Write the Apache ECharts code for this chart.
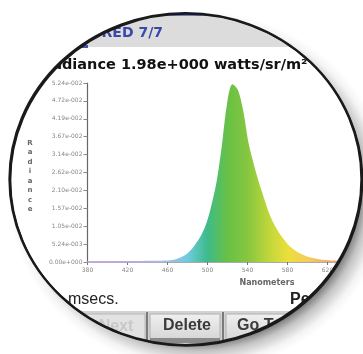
<!DOCTYPE html>
<html>
<head>
<meta charset="utf-8">
<style>
  html, body { margin: 0; padding: 0; background: #fff; }
  #main { width: 363px; height: 354px; }
</style>
<script src="https://cdn.jsdelivr.net/npm/echarts@6/dist/echarts.min.js"></script>
</head>
<body>
<div id="main"></div>
<script>
// spectrum (nm, watts/sr/m²/nm)
const nm = [380, 385, 390, 395, 400, 405, 410, 415, 420, 425, 430, 435, 440, 445, 450, 455, 460, 465,
  470, 475, 480, 485, 490, 495, 500, 505, 510, 515, 520, 525, 530, 535, 540, 545, 550, 555, 560, 565,
  570, 575, 580, 585, 590, 595, 600, 605, 610, 615, 620, 625, 630, 635, 640];
const radiance = [0.00005, 0.00005, 0.00005, 0.00005, 0.00005, 0.00005, 0.00005, 0.00005, 0.00005,
  0.00005, 0.00006, 0.00006, 0.00008, 0.0001, 0.00012, 0.00015, 0.0002, 0.00035, 0.0007, 0.0013,
  0.0022, 0.0036, 0.0056, 0.008, 0.0115, 0.0168, 0.0235, 0.0335, 0.0455, 0.0518, 0.05, 0.044,
  0.035, 0.029, 0.0238, 0.0192, 0.0148, 0.0114, 0.0088, 0.0067, 0.0049, 0.0036, 0.0026, 0.0019,
  0.0013, 0.0009, 0.0006, 0.0004, 0.0003, 0.0002, 0.00015, 0.00012, 0.0001];
const yTickLabels = ['0.00e+000', '5.24e-003', '1.05e-002', '1.57e-002', '2.10e-002', '2.62e-002',
  '3.14e-002', '3.67e-002', '4.19e-002', '4.72e-002', '5.24e-002'];
const yStep = 0.00524;

const chart = echarts.init(document.getElementById('main'));

// lens outline (slightly oval)
const cx = 185.5, cy = 179, ry = 166, sx = 176 / 166;
// drop shadow only toward the bottom-right: gradient centred off the lens centre
const shadow = new echarts.graphic.RadialGradient(12, 12, ry + 40, [
  { offset: 0, color: '#ffffff' },
  { offset: (ry - 18) / (ry + 40), color: '#666666' },
  { offset: (ry - 6) / (ry + 40), color: '#c4c4c4' },
  { offset: (ry + 6) / (ry + 40), color: '#f4f4f4' },
  { offset: (ry + 14) / (ry + 40), color: '#ffffff' },
  { offset: 1, color: '#ffffff' }
], true);

const btnFill = new echarts.graphic.LinearGradient(0, 0, 0, 1, [
  { offset: 0, color: '#f0f0f0' },
  { offset: 1, color: '#d6d6d6' }
]);

chart.setOption({
  animation: false,
  backgroundColor: '#fff',
  grid: { left: 87.5, top: 83, width: 260, height: 179, containLabel: false, outerBoundsMode: 'none' },
  visualMap: {
    show: false,
    type: 'continuous',
    seriesIndex: 0,
    dimension: 0,
    min: 380,
    max: 640,
    inRange: {
      color: ['#c8acdc', '#c2aade', '#bcaade', '#b2b0e2', '#a2bee6', '#6ecbe0', '#3dbb8a',
        '#68c145', '#86c640', '#bcd63a', '#eadf3c', '#f5cd5a', '#f4ad72', '#f09a78']
    }
  },
  xAxis: {
    type: 'value',
    min: 380,
    max: 640,
    interval: 40,
    axisLine: { show: true, lineStyle: { color: '#aaa', width: 1 } },
    axisTick: { show: true, length: 3, lineStyle: { color: '#777' } },
    axisLabel: { fontSize: 6, color: '#888', margin: 5, fontFamily: 'DejaVu Sans' },
    splitLine: { show: false }
  },
  yAxis: {
    type: 'value',
    min: 0,
    max: 0.0524,
    interval: yStep,
    axisLine: { show: true, lineStyle: { color: '#666', width: 1.2 } },
    axisTick: { show: true, length: 4, lineStyle: { color: '#888' } },
    axisLabel: {
      fontSize: 6, color: '#888', margin: 5, fontFamily: 'DejaVu Sans',
      formatter: v => yTickLabels[Math.round(v / yStep)] || ''
    },
    splitLine: { show: false }
  },
  series: [{
    type: 'line',
    data: nm.map((w, i) => [w, radiance[i]]),
    showSymbol: false,
    smooth: 0.3,
    lineStyle: { width: 1.8 },
    areaStyle: { opacity: 1 }
  }],
  graphic: [
    // title bar (only the part that shows through the lens)
    { type: 'rect', shape: { x: 120, y: 0, width: 140, height: 16 }, style: { fill: '#6c7cc4' } },
    { type: 'rect', shape: { x: 60, y: 16, width: 260, height: 31 }, style: { fill: '#dcdcdc' } },
    { type: 'rect', shape: { x: 60, y: 45, width: 28, height: 3 }, style: { fill: '#4656b0' } },
    { type: 'text', x: 163, y: 33, style: {
      text: 'MEASURED 7/7', align: 'right', verticalAlign: 'middle',
      font: 'bold 14px "DejaVu Sans"', fill: '#3a48a8' } },
    { type: 'text', x: 41, y: 65, style: {
      text: 'Radiance 1.98e+000 watts/sr/m²', verticalAlign: 'middle',
      font: 'bold 14.5px "DejaVu Sans"', fill: '#111' } },
    // axis names
    { type: 'text', x: 30, y: 176, style: {
      text: 'R\na\nd\ni\na\nn\nc\ne', align: 'center', verticalAlign: 'middle', lineHeight: 9.5,
      font: 'bold 7px "DejaVu Sans"', fill: '#666' } },
    { type: 'text', x: 267, y: 283, style: {
      text: 'Nanometers', align: 'center', verticalAlign: 'middle',
      font: 'bold 8px "DejaVu Sans"', fill: '#666' } },
    // status line
    { type: 'text', x: 68, y: 300, style: {
      text: 'msecs.', verticalAlign: 'middle', font: '16px "Liberation Sans"', fill: '#222' } },
    { type: 'text', x: 290, y: 300, style: {
      text: 'Peak', verticalAlign: 'middle', font: 'bold 16px "Liberation Sans"', fill: '#222' } },
    // button row
    { type: 'rect', shape: { x: 40, y: 311, width: 290, height: 43 }, style: { fill: '#d2d2d2' } },
    { type: 'rect', shape: { x: 40, y: 314, width: 105, height: 27 }, style: { fill: '#e2e2e2', stroke: '#b8b8b8' } },
    { type: 'text', x: 116, y: 327, style: {
      text: 'Next', align: 'center', verticalAlign: 'middle', font: 'bold 16px "Liberation Sans"', fill: '#c8c8c8' } },
    { type: 'rect', shape: { x: 146, y: 312, width: 2, height: 34 }, style: { fill: '#7a7a7a' } },
    { type: 'rect', shape: { x: 150, y: 314, width: 70, height: 25 }, style: { fill: btnFill, stroke: '#b0b0b0' } },
    { type: 'rect', shape: { x: 150, y: 338, width: 70, height: 5 }, style: { fill: '#8a8a8a' } },
    { type: 'text', x: 187, y: 326, style: {
      text: 'Delete', align: 'center', verticalAlign: 'middle', font: 'bold 16px "Liberation Sans"', fill: '#3a3a3a' } },
    { type: 'rect', shape: { x: 222, y: 312, width: 2, height: 34 }, style: { fill: '#7a7a7a' } },
    { type: 'rect', shape: { x: 226, y: 314, width: 100, height: 25 }, style: { fill: btnFill, stroke: '#b0b0b0' } },
    { type: 'text', x: 237, y: 326, style: {
      text: 'Go To', verticalAlign: 'middle', font: 'bold 16px "Liberation Sans"', fill: '#3a3a3a' } },
    // lens: white outside, shadow band, then the black rim (heavier bottom-right)
    { type: 'ring', x: cx, y: cy, scaleX: sx, z: 100, silent: true,
      shape: { cx: 0, cy: 0, r: 420, r0: ry }, style: { fill: '#ffffff' } },
    { type: 'ring', x: cx, y: cy, scaleX: sx, z: 100, silent: true,
      shape: { cx: 0, cy: 0, r: ry + 40, r0: ry }, style: { fill: shadow } },
    { type: 'circle', x: cx, y: cy, scaleX: sx, z: 101, silent: true,
      shape: { cx: 0, cy: 0, r: ry }, style: { fill: 'none', stroke: '#1a1a1a', lineWidth: 2.2 } },
    { type: 'circle', x: cx + 1, y: cy + 1, scaleX: sx, z: 101, silent: true,
      shape: { cx: 0, cy: 0, r: ry }, style: { fill: 'none', stroke: '#1a1a1a', lineWidth: 1.6 } }
  ]
});
</script>
</body>
</html>
